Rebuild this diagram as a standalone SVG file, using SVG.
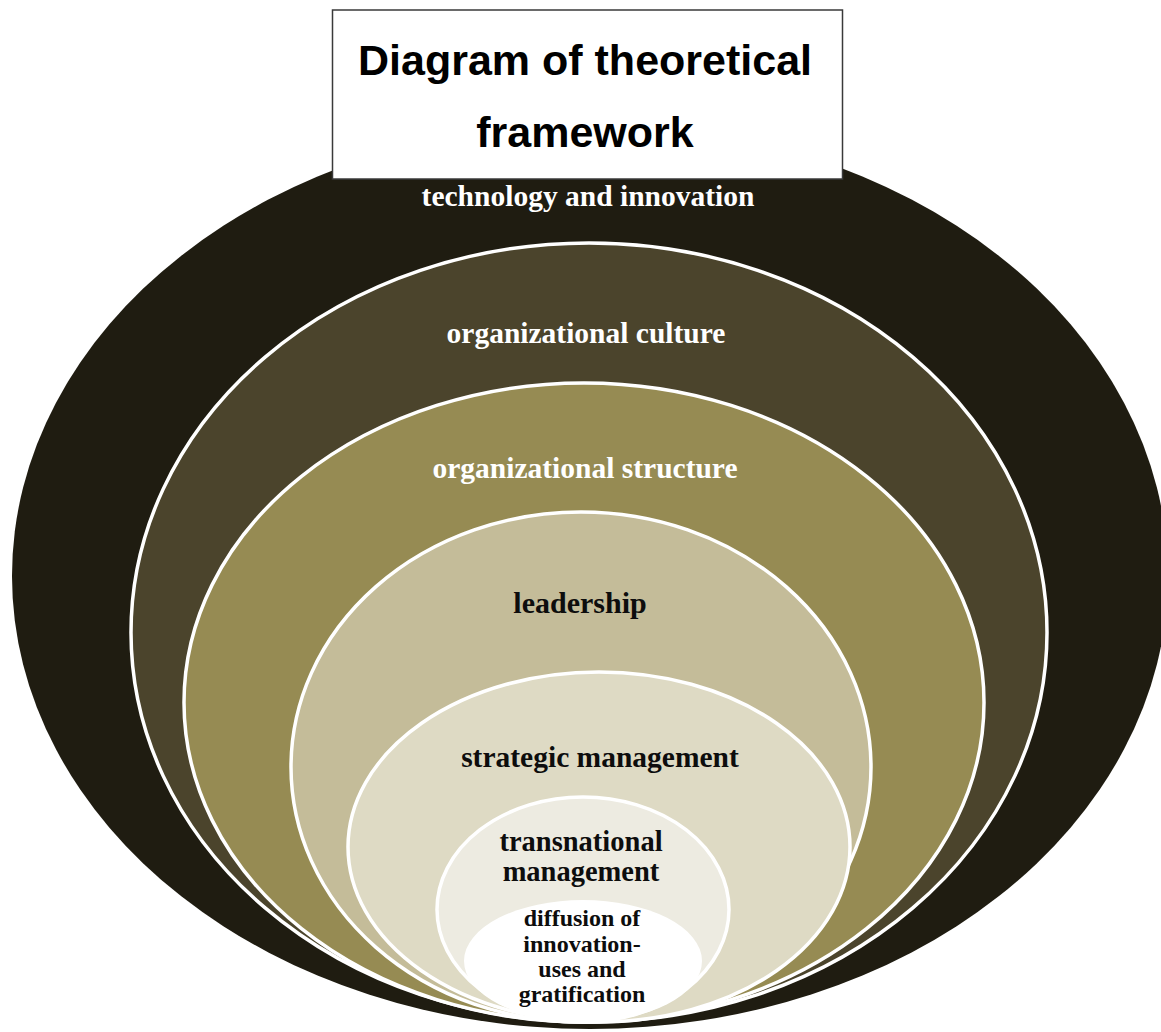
<svg xmlns="http://www.w3.org/2000/svg" width="1161" height="1032" viewBox="0 0 1161 1032">
<style>
.ring{stroke:#ffffff;stroke-width:3.5}
.lbl{font-family:"Liberation Serif","Times New Roman",serif;font-weight:bold;text-anchor:middle}
.light{fill:#ffffff}
.dark{fill:#0d0d0d}
.title{font-family:"Liberation Sans",Arial,sans-serif;font-weight:bold;font-size:43px;text-anchor:middle;fill:#000000}
</style>
<rect x="0" y="0" width="1161" height="1032" fill="#ffffff"/>
<g id="technology">
<ellipse cx="590" cy="576" rx="578" ry="453" fill="#1f1c11"/>
<text class="lbl light" x="588" y="206" font-size="29.5">technology and innovation</text>
</g>
<g id="culture">
<ellipse class="ring" cx="589" cy="632.5" rx="458" ry="389.5" fill="#4b442c"/>
<text class="lbl light" x="586" y="343" font-size="29.5">organizational culture</text>
</g>
<g id="structure">
<ellipse class="ring" cx="584" cy="702.5" rx="400" ry="319.5" fill="#968b53"/>
<text class="lbl light" x="585" y="478" font-size="29.5">organizational structure</text>
</g>
<g id="leadership">
<ellipse class="ring" cx="581" cy="767" rx="290" ry="255" fill="#c4bc99"/>
<text class="lbl dark" x="580" y="613" font-size="30">leadership</text>
</g>
<g id="strategic">
<ellipse class="ring" cx="599" cy="847" rx="251" ry="175" fill="#dedac4"/>
<text class="lbl dark" x="600" y="767" font-size="29.5">strategic management</text>
</g>
<g id="transnational">
<ellipse class="ring" cx="583" cy="909.5" rx="146" ry="112.5" fill="#edebe1"/>
<text class="lbl dark" x="581" y="851" font-size="28.5">transnational</text>
<text class="lbl dark" x="581" y="881" font-size="28.5">management</text>
</g>
<g id="diffusion">
<ellipse cx="583" cy="961" rx="119" ry="61" fill="#ffffff"/>
<text class="lbl dark" x="582" y="926" font-size="24">diffusion of</text>
<text class="lbl dark" x="582" y="951.5" font-size="24">innovation-</text>
<text class="lbl dark" x="582" y="977" font-size="24">uses and</text>
<text class="lbl dark" x="582" y="1002" font-size="24">gratification</text>
</g>
<g id="title">
<rect x="332.5" y="10" width="510" height="169" fill="#ffffff" stroke="#3a3a3a" stroke-width="1.5"/>
<text class="title" x="585" y="75">Diagram of theoretical</text>
<text class="title" x="585" y="147">framework</text>
</g>
</svg>
